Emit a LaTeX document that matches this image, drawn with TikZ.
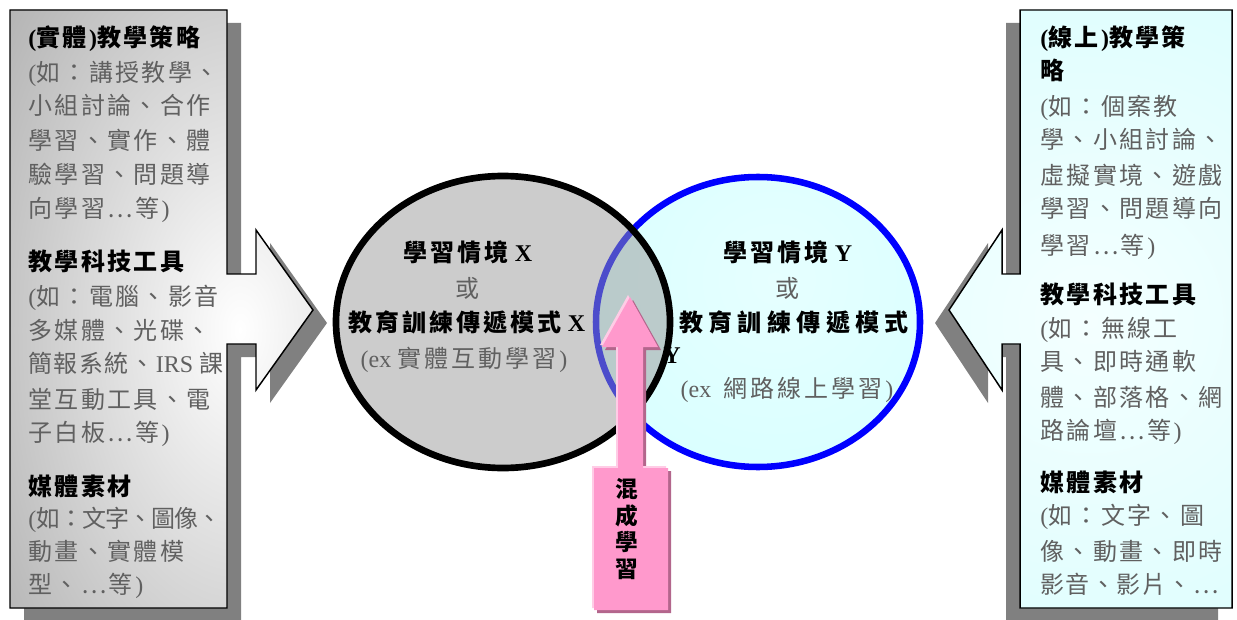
\documentclass[tikz,border=0pt]{standalone}
\usepackage{fontspec}
\setmainfont{Liberation Serif}
\newfontfamily\cjkf{Noto Sans CJK TC}
\newdimen\px \px=0.75pt
\newskip\cjkgap \cjkgap=2.4\px
\newcount\cjkcnt
\newXeTeXintercharclass\cjkcls
\cjkcnt=0
\loop\ifnum\cjkcnt<"2E80 \XeTeXcharclass\cjkcnt=0 \advance\cjkcnt 1 \repeat
\cjkcnt="2E80
\loop\ifnum\cjkcnt<"A000 \XeTeXcharclass\cjkcnt=\cjkcls \advance\cjkcnt 1 \repeat
\cjkcnt="FF00
\loop\ifnum\cjkcnt<"FFF0 \XeTeXcharclass\cjkcnt=\cjkcls \advance\cjkcnt 1 \repeat
\XeTeXcharclass"2026=\cjkcls
\XeTeXinterchartokenstate=1
\XeTeXinterchartoks 0 \cjkcls = {\cjkf}
\XeTeXinterchartoks 4095 \cjkcls = {\cjkf}
\XeTeXinterchartoks \cjkcls 0 = {\hskip\cjkgap\rmfamily}
\XeTeXinterchartoks \cjkcls 4095 = {\rmfamily}
\XeTeXinterchartoks \cjkcls \cjkcls = {\hskip\cjkgap}
\newcommand\fsbody{\fontsize{18pt}{22pt}\selectfont}
\definecolor{shadowgray}{HTML}{808080}
\definecolor{bodytext}{HTML}{606060}
\definecolor{lboxout}{HTML}{646464}
\definecolor{rboxin}{HTML}{F4FFFF}
\definecolor{rboxout}{HTML}{C2FCFC}
\definecolor{cyanfill}{HTML}{CCFFFF}
\definecolor{cyanin}{HTML}{E6FFFF}
\definecolor{blueline}{HTML}{0000FF}
\definecolor{circgray}{HTML}{999999}
\definecolor{pinkmain}{HTML}{FF99CC}
\definecolor{pinklight}{HTML}{FFCCE6}
\definecolor{pinkdark}{HTML}{B3668C}
\tikzset{
  lcall/.style={insert path={(10,10) -- (227,10) -- (227,274) -- (256,274) -- (256,230) -- (313,310) -- (256,390) -- (256,344) -- (227,344) -- (227,608) -- (10,608) -- cycle}},
  rcall/.style={insert path={(1232,10) -- (1020,10) -- (1020,274) -- (1002,274) -- (1002,230) -- (949,310) -- (1002,390) -- (1002,344) -- (1020,344) -- (1020,608) -- (1232,608) -- cycle}},
  pinkshape/.style={insert path={(630,297) -- (658,347) -- (643,347) -- (643,468) -- (668,468) -- (668,610) -- (594,610) -- (594,468) -- (618,468) -- (618,347) -- (602,347) -- cycle}},
  boxtext/.style={anchor=base west, inner sep=0pt, text=bodytext, font=\fsbody},
  boxhead/.style={anchor=base west, inner sep=0pt, text=black, font={\fsbody\bfseries}},
  circhead/.style={anchor=base, inner sep=0pt, text=black, font={\fsbody\bfseries\cjkgap=3\px}},
  circbody/.style={anchor=base, inner sep=0pt, text=bodytext, font={\fsbody\cjkgap=3\px}},
  pinktxt/.style={align=center, inner sep=0pt, text=black, font={\fontsize{17pt}{19.9pt}\selectfont\bfseries}},
}
\begin{document}
\begin{tikzpicture}[x=0.75pt,y=-0.75pt]
\useasboundingbox (0,0) rectangle (1237,620);
% shadows of the callouts
\begin{scope}[shift={(14,13)}]
  \fill[shadowgray, lcall];
\end{scope}
\begin{scope}[shift={(-14,13)}]
  \fill[shadowgray, rcall];
\end{scope}
% callouts
\path[lcall, draw=black, line width=1.1pt, path picture={
  \fill[lboxout] (0,0) rectangle (1237,620);
  \shade[inner color=white, outer color=lboxout] (240,330) ellipse [x radius=620, y radius=1050];}];
\path[rcall, draw=black, line width=1.1pt, path picture={
  \fill[rboxout] (0,0) rectangle (1237,620);
  \shade[inner color=rboxin, outer color=rboxout] (1090,320) circle (800);}];
% circles
\path[draw=blueline, line width=4.9pt, fill=cyanfill, path picture={
  \shade[inner color=cyanin, outer color=cyanfill] (775,280) circle (420);}]
  (758,322) ellipse [x radius=162, y radius=145];
\fill[circgray, fill opacity=0.5] (503,322) ellipse [x radius=167, y radius=146];
\draw[black, line width=5pt] (503,322) ellipse [x radius=167, y radius=146];
% circle texts
\node[circhead] (xa) at (468,262) {學習情境 X};
\node[circbody] (xb) at (467,297) {或};
\node[circhead] (xc) at (467,331) {教育訓練傳遞模式 X};
\node[circbody] (xd) at (464,367) {(ex 實體互動學習)};
\node[circhead] (ya) at (788,262) {學習情境 Y};
\node[circbody] (yb) at (787,297) {或};
\node[circhead, font={\fsbody\bfseries\cjkgap=5.4\px}] (yc) at (794,331) {教育訓練傳遞模式};
\node[circhead] (ycy) at (672,363) {Y};
\node[circbody] (yd) at (787,397) {(ex~~網路線上學習)};
% pink arrow
\begin{scope}[shift={(3,3)}]
  \fill[pinkdark, pinkshape];
\end{scope}
\begin{scope}[shift={(-2,-2)}]
  \fill[pinklight, pinkshape];
\end{scope}
\fill[pinkmain, pinkshape];
\node[pinktxt] (blend) at (627,529) {混\\成\\學\\習};
% left box text
\node[boxhead] (l1) at (28,47) {(實體)教學策略};
\node[boxtext] (l2) at (28,82) {(如：講授教學、};
\node[boxtext] (l3) at (28,115) {小組討論、合作};
\node[boxtext] (l4) at (28,150) {學習、實作、體};
\node[boxtext] (l5) at (28,184) {驗學習、問題導};
\node[boxtext] (l6) at (28,218) {向學習…等)};
\node[boxhead] (l7) at (28,270) {教學科技工具};
\node[boxtext] (l8) at (28,305) {(如：電腦、影音};
\node[boxtext] (l9) at (28,339) {多媒體、光碟、};
\node[boxtext, font={\fsbody\cjkgap=1.5\px}] (l10) at (28,372) {簡報系統、IRS 課};
\node[boxtext] (l11) at (28,408) {堂互動工具、電};
\node[boxtext] (l12) at (28,441) {子白板…等)};
\node[boxhead] (l13) at (28,495) {媒體素材};
\node[boxtext, font={\fsbody\cjkgap=-1\px}] (l14) at (28,527) {(如：文字、圖像、};
\node[boxtext] (l15) at (28,560) {動畫、實體模};
\node[boxtext] (l16) at (28,593) {型、…等)};
% right box text
\node[boxhead] (r1) at (1040,47) {(線上)教學策};
\node[boxhead] (r2) at (1040,80) {略};
\node[boxtext] (r3) at (1040,116) {(如：個案教};
\node[boxtext] (r4) at (1040,149) {學、小組討論、};
\node[boxtext] (r5) at (1040,185) {虛擬實境、遊戲};
\node[boxtext] (r6) at (1040,218) {學習、問題導向};
\node[boxtext] (r7) at (1040,254) {學習…等)};
\node[boxhead] (r8) at (1040,303) {教學科技工具};
\node[boxtext] (r9) at (1040,337) {(如：無線工};
\node[boxtext] (r10) at (1040,370) {具、即時通軟};
\node[boxtext] (r11) at (1040,406) {體、部落格、網};
\node[boxtext] (r12) at (1040,439) {路論壇…等)};
\node[boxhead] (r13) at (1040,491) {媒體素材};
\node[boxtext] (r14) at (1040,524) {(如：文字、圖};
\node[boxtext] (r15) at (1040,560) {像、動畫、即時};
\node[boxtext, font={\fsbody\cjkgap=1.5\px}] (r16) at (1040,593) {影音、影片、…};
\end{tikzpicture}
\end{document}
